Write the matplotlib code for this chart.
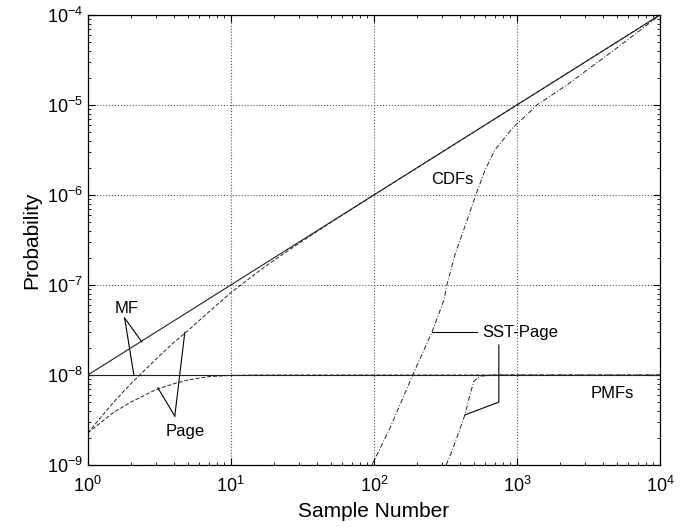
import numpy as np
import matplotlib
matplotlib.use('Agg')
import matplotlib.pyplot as plt
from matplotlib.ticker import LogLocator, NullFormatter

plt.rcParams['font.family'] = ['Liberation Sans', 'DejaVu Sans']
plt.rcParams['mathtext.fontset'] = 'custom'
plt.rcParams['mathtext.rm'] = 'Liberation Sans'

# MF detector: CDF and PMF
mf_x = [1, 10, 100, 1000, 10000]
mf_cdf = [1e-8, 1e-7, 1e-6, 1e-5, 1e-4]
mf_pmf = [1e-8, 1e-8, 1e-8, 1e-8, 1e-8]

# Page detector
page_x = [1, 1.5, 2, 3, 4, 5, 7, 10, 15, 20, 30, 50, 100, 1000, 10000]
page_cdf = [2.27e-9, 4.9e-9, 8.0e-9, 1.5e-8, 2.3e-8, 3.1e-8, 5.0e-8, 8.2e-8,
            1.35e-7, 1.88e-7, 2.91e-7, 4.95e-7, 1.0e-6, 1.0e-5, 1.0e-4]
page_pmf = [2.27e-9, 3.8e-9, 5.0e-9, 6.9e-9, 8.0e-9, 8.8e-9, 9.6e-9, 9.9e-9,
            1e-8, 1e-8, 1e-8, 1e-8, 1e-8, 1e-8, 1e-8]

# SST-Page detector
sst_x = [97, 130, 187, 255, 309, 324, 370, 418, 470, 516, 600, 702, 937,
         1175, 1380, 2240, 5000, 8100, 10000]
sst_cdf = [1e-9, 2.6e-9, 1e-8, 3.0e-8, 6.8e-8, 1e-7, 2.2e-7, 3.8e-7, 6.5e-7,
           1e-6, 1.9e-6, 3.16e-6, 5.6e-6, 7.8e-6, 1e-5, 1.67e-5, 4.3e-5,
           7.7e-5, 1e-4]
sst_pmf_x = [320, 350, 380, 433, 470, 500, 550, 700, 1000, 10000]
sst_pmf = [1e-9, 1.4e-9, 2.0e-9, 3.6e-9, 6.0e-9, 8.5e-9, 9.7e-9, 1e-8, 1e-8, 1e-8]

lc = '#222222'
fig = plt.figure(figsize=(6.91, 5.27), dpi=100)
ax = fig.add_axes([0.127, 0.1176, 0.828, 0.854])

ax.loglog(mf_x, mf_cdf, '-', color=lc, lw=0.8)
ax.loglog(mf_x, mf_pmf, '-', color=lc, lw=0.8)
ax.loglog(page_x, page_cdf, '--', color=lc, lw=0.7, dashes=(4, 2))
ax.loglog(page_x, page_pmf, '--', color=lc, lw=0.7, dashes=(4, 2))
ax.loglog(sst_x, sst_cdf, '-.', color=lc, lw=0.7, dashes=(5, 2, 1, 2))
ax.loglog(sst_pmf_x, sst_pmf, '-.', color=lc, lw=0.7, dashes=(5, 2, 1, 2))

ax.set_xlim(1, 1e4)
ax.set_ylim(1e-9, 1e-4)
ax.xaxis.set_major_locator(LogLocator(base=10, numticks=10))
ax.yaxis.set_major_locator(LogLocator(base=10, numticks=10))
ax.xaxis.set_minor_locator(LogLocator(base=10, subs=np.arange(2, 10), numticks=20))
ax.yaxis.set_minor_locator(LogLocator(base=10, subs=np.arange(2, 10), numticks=20))
ax.xaxis.set_minor_formatter(NullFormatter())
ax.yaxis.set_minor_formatter(NullFormatter())
ax.tick_params(which='both', direction='in', top=True, right=True, labelsize=13)
ax.tick_params(which='major', length=5)
ax.tick_params(which='minor', length=2.5)
ax.tick_params(axis='x', which='major', pad=8)
ax.grid(True, which='major', linestyle=':', color='#555555', lw=0.8)
for s in ax.spines.values():
    s.set_linewidth(0.9)

ax.set_xlabel('Sample Number', fontsize=15, labelpad=4)
ax.set_ylabel('Probability', fontsize=15)

tk = dict(fontsize=12, ha='center', va='center')
ax.text(1.87, 5.5e-8, 'MF', **tk)
ax.plot([1.81, 2.39], [4.3e-8, 2.33e-8], color='k', lw=0.8)
ax.plot([1.81, 2.10], [4.3e-8, 1e-8], color='k', lw=0.8)

ax.text(4.77, 2.33e-9, 'Page', **tk)
ax.plot([4.06, 4.77], [3.5e-9, 2.98e-8], color='k', lw=0.8)
ax.plot([4.06, 3.09], [3.5e-9, 7.2e-9], color='k', lw=0.8)

ax.text(569, 3.0e-8, 'SST-Page', fontsize=12, ha='left', va='center')
ax.plot([525, 255], [3.0e-8, 3.0e-8], color='k', lw=0.8)
ax.plot([748, 748, 433], [2.15e-8, 5.0e-9, 3.6e-9], color='k', lw=0.8)

ax.text(351, 1.47e-6, 'CDFs', **tk)
ax.text(4613, 6.3e-9, 'PMFs', **tk)

fig.savefig('out.png', dpi=100)
